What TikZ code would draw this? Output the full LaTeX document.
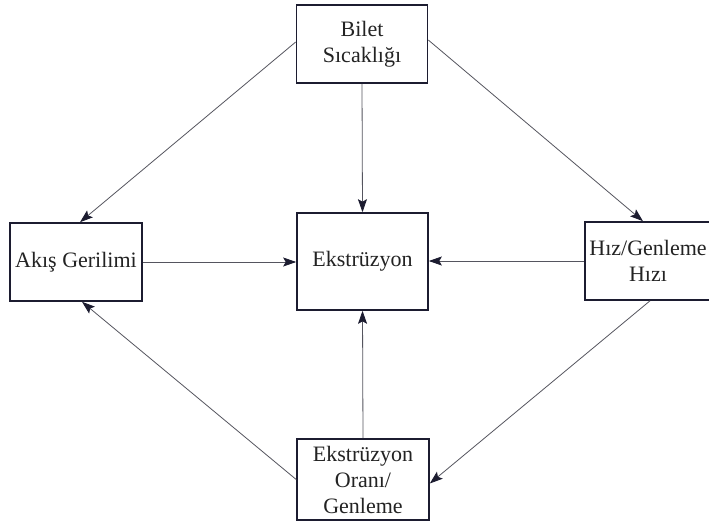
\documentclass[tikz,border=0pt]{standalone}
\usepackage{fontspec}
\setmainfont{Liberation Serif}
\usetikzlibrary{arrows.meta}
\definecolor{boxline}{RGB}{28,28,48}
\definecolor{linkline}{RGB}{85,85,95}
\definecolor{labeltext}{RGB}{35,35,35}
\tikzset{
  factor/.style={draw=boxline, line width=1.6pt, fill=white, inner sep=0pt,
    align=center, text=labeltext, font=\fontsize{22}{26}\selectfont},
  link/.style={draw=linkline, line width=0.8pt,
    -{Stealth[length=13pt,width=9pt,inset=2.5pt,color=boxline]}}
}
\begin{document}
\begin{tikzpicture}[x=1pt,y=-1pt]
  \useasboundingbox (0,0) rectangle (709,522);
  \fill[white] (0,0) rectangle (709,522);

  \node[factor, minimum width=131pt, minimum height=78pt] (bilet) at (362,44) {Bilet\\Sıcaklığı};
  \node[factor, minimum width=132pt, minimum height=78pt] (akis) at (76,262) {Akış Gerilimi};
  \node[factor, minimum width=131pt, minimum height=97pt] (eks) at (362.5,261.5) {Ekstrüzyon};
  \node[factor, minimum width=126pt, minimum height=78pt] (hiz) at (648,261) {Hız/Genleme\\Hızı};
  \node[factor, minimum width=132pt, minimum height=81pt] (oran) at (363,479.5) {Ekstrüzyon\\Oranı/\\Genleme};

  \draw[link] ([yshift=2pt]bilet.west) -- ([xshift=4pt]akis.north);
  \draw[link] ([yshift=4pt]bilet.east) -- ([xshift=-5pt]hiz.north);
  \draw[link] (bilet.south) -- (eks.north);
  \draw[link] (akis.east) -- (eks.west |- akis.east);
  \draw[link] (hiz.west) -- (eks.east |- hiz.west);
  \draw[link] ([xshift=2pt]hiz.south) -- ([yshift=-4pt]oran.east);
  \draw[link] (oran.west) -- ([xshift=6pt]akis.south);
  \draw[link] (oran.north) -- (eks.south);
\end{tikzpicture}
\end{document}
